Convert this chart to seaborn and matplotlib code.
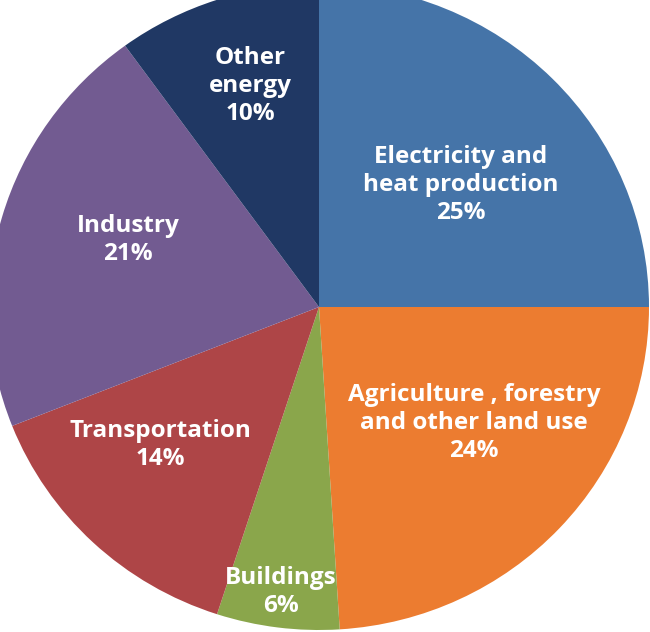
import matplotlib
matplotlib.use("Agg")
import matplotlib.pyplot as plt
import seaborn as sns

# Data
categories = ["Electricity and\nheat production", "Agriculture , forestry\nand other land use",
              "Buildings", "Transportation", "Industry", "Other\nenergy"]
shares = [25, 24, 6, 14, 21, 10]
colors = ["#4574A8", "#EC7C30", "#8AA64B", "#AE4547", "#725B91", "#203864"]

# Label positions (data coords of pie with radius 1)
label_pos = [(0.430, 0.378), (0.470, -0.359), (-0.115, -0.882),
             (-0.482, -0.427), (-0.579, 0.207), (-0.209, 0.684)]

sns.set_theme(style="white")
plt.rcParams['font.family'] = ['Open Sans', 'DejaVu Sans']

fig = plt.figure(figsize=(6.5, 6.32), dpi=100)
ax = fig.add_axes([0, 0, 1, 1])
wedges, _ = ax.pie(shares, colors=colors, startangle=90, counterclock=False,
                   radius=1.0, center=(0, 0), frame=False,
                   wedgeprops=dict(linewidth=0))
for lab, pct, (x, y) in zip(categories, shares, label_pos):
    ax.text(x, y, f"{lab}\n{pct}%", ha="center", va="center", color="white",
            fontsize=17.5, fontweight="bold", linespacing=1.22)

ax.set_aspect("auto")
ax.set_xlim(-319 / 330, 331 / 330)
ax.set_ylim(-325 / 323, 307 / 323)
ax.axis("off")
fig.savefig("out.png", dpi=100)
